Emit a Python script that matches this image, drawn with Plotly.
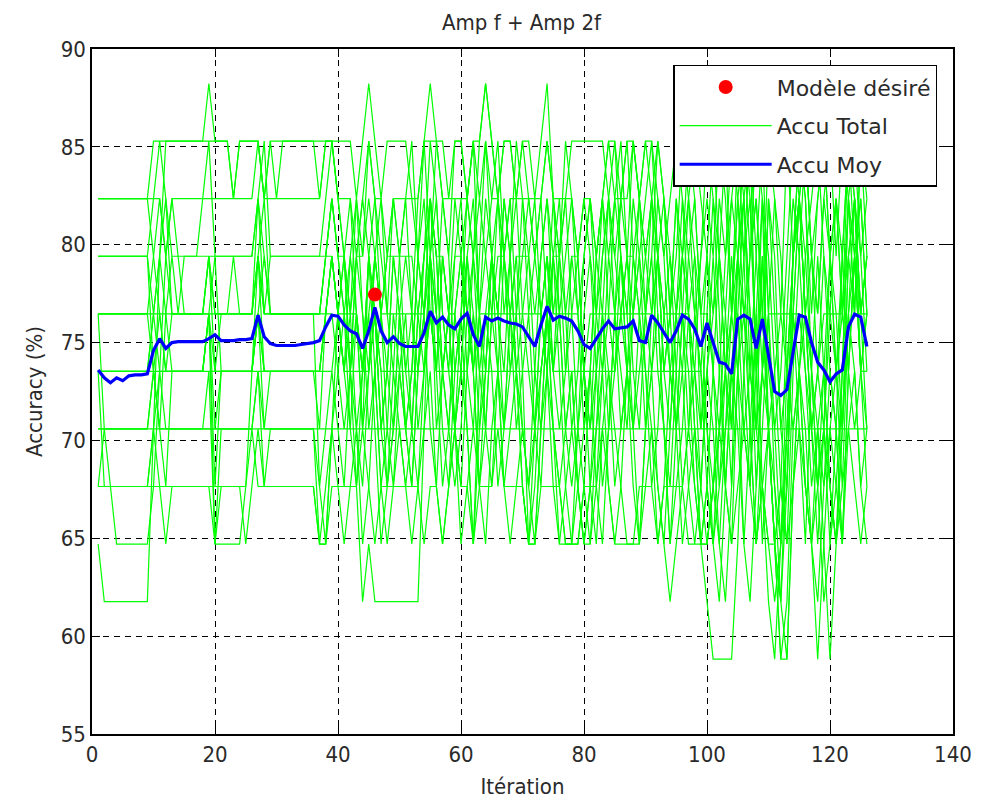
import plotly.graph_objects as go

# Test-set size: every accuracy is a count of correct predictions out of 34
N_TEST = 34

iterations = list(range(1, 127))

# Correct predictions per iteration for each run ("Accu Total")
run_01 = [28,28,28,28,28,28,28,28,28,29, 29,29,29,29,29,29,29,29,30,29,
          29,29,28,29,29,29,29,28,29,28, 29,29,29,29,29,29,28,29,29,29,
          29,29,28,29,30,29,28,29,29,29, 29,28,27,29,29,29,28,27,29,29,
          28,29,29,30,29,28,29,29,28,29, 29,28,29,30,28,27,28,29,29,29,
          29,29,29,28,27,28,29,29,28,29, 29,28,27,28,29,28,27,26,27,29,
          28,27,29,26,28,29,27,28,26,29, 28,26,29,27,28,29,27,26,28,29,
          27,29,28,26,29,28]
run_02 = [28,28,28,28,28,28,28,28,28,28, 28,27,28,28,28,28,28,28,28,28,
          28,28,28,28,28,28,29,28,28,28, 28,28,28,28,28,28,28,29,29,28,
          28,28,27,28,29,28,28,27,28,28, 28,28,28,29,30,29,28,28,28,28,
          28,29,28,29,28,28,27,28,28,28, 28,28,28,29,28,28,28,28,27,28,
          28,27,28,29,28,28,28,29,28,27, 28,29,28,27,26,27,28,29,28,27,
          26,28,27,29,28,26,27,29,28,26, 28,27,25,27,29,28,26,28,29,27,
          28,26,28,29,27,28]
run_03 = [27,27,27,27,27,27,27,27,27,25, 24,26,27,26,27,27,27,27,27,27,
          27,27,27,27,27,27,28,26,27,27, 27,27,27,27,27,27,27,27,28,27,
          27,26,27,27,28,27,26,27,27,27, 27,27,26,27,28,27,27,26,27,27,
          26,27,28,27,26,27,27,26,27,27, 27,26,27,28,27,27,26,27,27,28,
          27,26,27,28,27,26,27,27,28,27, 26,27,26,25,26,27,26,25,24,25,
          26,27,25,23,27,28,26,24,27,25, 24,22,23,27,28,26,24,25,27,26,
          25,24,27,28,26,27]
run_04 = [26,26,26,26,26,26,26,26,26,26, 26,25,26,26,26,26,26,26,26,26,
          26,26,26,26,26,26,27,26,26,26, 26,26,26,26,26,26,26,26,27,26,
          26,26,26,25,26,27,26,26,26,26, 26,26,26,26,27,26,25,26,26,27,
          26,25,26,26,26,26,26,26,26,26, 26,26,26,27,26,26,26,26,26,25,
          26,26,26,26,26,26,26,26,26,26, 26,27,26,26,26,26,26,27,26,26,
          25,24,25,26,27,26,25,24,25,26, 26,26,26,26,26,25,24,25,26,26,
          26,26,27,26,26,26]
run_05 = [24,24,24,24,24,24,24,24,24,25, 25,25,25,25,25,25,25,25,25,25,
          25,25,25,25,25,25,25,25,25,25, 25,25,25,25,25,25,25,25,25,26,
          25,25,25,25,25,26,25,25,25,25, 25,25,25,25,26,25,25,25,25,25,
          25,26,25,25,25,25,25,25,25,25, 25,25,25,26,25,25,25,25,25,25,
          25,25,25,25,25,26,25,25,25,25, 25,25,25,25,25,25,25,25,25,24,
          23,24,25,26,25,24,23,22,23,24, 25,26,25,24,25,26,25,24,23,24,
          25,26,25,24,25,25]
run_06 = [23,24,24,24,24,24,24,24,24,24, 24,24,24,24,24,24,24,24,24,24,
          24,24,24,24,24,24,24,24,24,24, 24,24,24,24,24,24,24,24,24,24,
          24,24,24,24,24,24,24,24,24,24, 24,24,24,24,24,24,24,24,24,24,
          24,24,24,24,24,24,24,24,24,24, 24,24,24,24,24,24,24,24,24,24,
          24,24,24,24,24,24,24,24,24,24, 24,24,24,24,24,24,24,24,24,24,
          24,24,24,24,24,24,24,24,24,24, 24,24,24,24,24,24,24,24,24,24,
          24,24,24,24,24,24]
run_07 = [25,23,23,23,23,23,23,23,23,24, 23,22,23,23,23,23,23,23,23,22,
          23,23,23,23,23,24,23,23,23,23, 23,23,23,23,23,23,22,22,23,23,
          23,23,23,24,23,22,23,23,23,23, 23,23,23,22,23,23,22,23,24,23,
          23,22,23,23,23,24,23,23,23,23, 22,22,23,23,23,23,22,22,22,23,
          23,23,24,23,22,22,22,22,23,23, 23,22,23,23,23,23,22,22,22,22,
          23,24,23,22,23,24,25,24,23,22, 22,23,22,23,24,23,22,23,24,23,
          22,23,24,23,22,23]
run_08 = [22,21,21,21,21,21,21,21,21,24, 27,29,29,29,29,29,29,29,29,29,
          29,29,28,29,29,29,29,28,29,29, 29,29,29,29,29,29,29,29,29,28,
          27,25,23,21,22,21,21,21,21,21, 21,21,21,24,27,29,29,28,29,29,
          28,27,29,30,29,28,29,29,28,29, 28,27,26,25,24,22,22,22,23,24,
          25,27,28,29,29,28,29,27,26,25, 24,23,22,21,22,23,24,23,22,21,
          20,20,20,20,22,25,27,28,26,24, 22,20,20,23,25,27,28,29,27,25,
          24,22,25,27,28,26]
run_09 = [26,24,23,22,22,22,22,22,22,23, 25,27,28,27,26,26,26,26,26,22,
          22,22,22,22,23,25,26,27,26,26, 26,26,26,26,26,26,23,22,24,26,
          27,25,26,24,27,26,25,23,24,26, 25,24,26,27,28,26,24,23,25,26,
          24,22,25,26,27,25,24,26,27,25, 22,22,24,26,27,25,23,22,22,23,
          25,23,22,24,26,27,25,24,26,27, 28,26,24,22,24,26,25,23,22,22,
          23,25,27,28,29,27,24,22,23,21, 20,22,25,27,29,28,25,23,21,22,
          24,27,29,27,25,26]
run_10 = [25,25,25,25,25,25,25,25,25,26, 27,28,26,26,26,26,26,26,27,25,
          26,26,26,26,26,26,27,28,26,26, 26,26,26,26,26,26,26,27,28,27,
          26,25,27,28,27,26,24,25,27,26, 24,23,25,26,28,27,25,26,28,27,
          25,24,26,28,27,26,28,27,25,24, 23,25,27,28,26,27,28,26,24,23,
          22,23,25,26,28,27,25,26,27,28, 29,27,25,26,28,27,29,28,26,27,
          25,23,24,26,28,27,29,25,28,24, 22,23,26,28,27,25,23,24,22,20,
          22,25,28,26,29,27]
run_11 = [27,27,27,27,27,27,27,27,27,28, 29,28,27,27,27,27,27,28,29,27,
          27,27,27,27,27,27,28,29,27,27, 27,27,27,27,27,27,27,28,29,28,
          27,26,28,27,29,28,26,27,28,27, 28,29,27,26,28,27,25,24,26,27,
          28,29,26,27,28,29,27,28,26,27, 28,27,28,29,28,26,27,28,27,25,
          24,26,28,27,28,29,27,26,28,29, 28,27,25,26,28,26,24,25,27,28,
          27,29,28,26,29,28,25,27,29,26, 24,25,27,29,28,26,27,28,29,27,
          28,26,29,28,26,27]
run_12 = [26,26,26,26,26,26,26,26,26,25, 24,23,25,25,25,25,25,25,26,23,
          25,25,25,25,25,25,26,24,25,25, 25,25,25,25,25,25,24,26,27,26,
          25,24,26,25,27,25,23,24,26,25, 24,25,27,26,27,24,25,26,24,25,
          27,25,23,25,27,26,24,25,26,24, 23,24,26,27,25,26,24,25,23,22,
          23,25,26,24,25,27,26,24,25,26, 27,25,24,23,25,27,26,24,22,23,
          25,27,26,24,27,29,28,25,27,24, 22,21,23,26,28,27,25,23,24,22,
          23,25,28,27,26,24]
run_13 = [23,23,23,23,23,23,23,23,23,24, 25,24,24,24,24,24,24,24,25,22,
          24,24,24,24,24,24,25,23,24,24, 24,24,24,24,24,24,22,22,24,25,
          26,24,23,25,26,24,22,23,25,24, 23,24,26,25,27,25,23,24,26,25,
          24,22,24,26,25,23,24,26,25,23, 22,23,25,26,24,23,22,22,24,25,
          23,22,24,25,24,23,22,22,22,24, 25,26,24,22,23,24,26,25,23,22,
          23,22,24,25,26,24,23,25,26,24, 22,21,24,26,25,23,22,24,25,23,
          22,24,26,25,23,24]
run_14 = [28,28,28,28,28,28,28,28,28,27, 26,26,26,26,26,26,26,26,27,26,
          26,26,27,26,26,26,28,27,26,26, 26,26,26,26,26,26,26,27,28,27,
          26,27,28,26,25,27,28,26,25,27, 28,26,25,27,29,28,26,25,27,28,
          26,25,27,29,27,26,28,27,25,26, 27,28,26,25,27,28,26,24,25,27,
          28,26,25,27,26,28,27,29,28,26, 25,27,28,26,24,25,27,28,26,24,
          22,24,26,28,27,25,23,26,28,27, 25,23,22,25,27,29,27,25,24,26,
          28,27,25,27,28,26]
run_15 = [24,24,24,24,24,24,24,24,24,25, 26,25,25,25,25,25,25,25,26,24,
          25,25,25,25,25,25,26,25,25,25, 25,25,25,25,25,25,25,26,26,25,
          24,25,27,26,24,25,26,24,23,25, 26,24,23,25,26,25,27,26,24,23,
          25,27,26,24,23,25,27,26,24,25, 26,24,23,25,27,26,24,23,24,26,
          27,25,23,24,26,25,24,26,27,25, 23,24,26,27,25,23,24,26,25,23,
          22,23,25,27,25,22,24,26,23,22, 21,22,24,26,24,22,25,27,25,23,
          22,24,26,27,25,23]
run_16 = [25,25,25,25,25,25,25,25,25,26, 27,26,25,25,25,25,25,25,26,27,
          25,25,25,25,25,25,27,25,25,25, 25,25,25,25,25,25,25,26,27,26,
          25,27,26,24,25,27,26,25,24,26, 27,26,24,25,27,28,26,25,24,26,
          28,27,25,24,26,28,27,25,26,28, 27,25,24,26,28,27,25,26,27,25,
          24,25,27,28,26,24,25,27,26,24, 26,28,27,25,24,26,28,27,24,26,
          28,26,23,25,27,28,26,23,25,28, 26,24,25,27,28,26,24,22,24,27,
          25,23,26,28,27,25]
run_17 = [26,26,26,26,26,26,26,26,26,27, 28,27,26,26,26,26,26,26,27,26,
          26,26,26,26,26,26,27,26,26,26, 26,26,26,26,26,26,26,27,27,26,
          27,28,26,25,27,28,27,26,28,27, 25,26,28,29,27,26,28,27,25,26,
          27,28,26,25,27,28,26,27,29,28, 26,27,28,26,25,27,29,28,26,27,
          28,27,26,28,29,27,26,28,27,26, 27,29,28,26,27,29,28,26,25,27,
          29,27,25,24,26,28,29,27,25,28, 27,24,23,26,28,29,27,26,28,27,
          25,27,29,28,26,27]
run_18 = [23,23,23,23,23,23,23,23,23,23, 23,23,23,23,23,23,23,23,23,23,
          23,23,23,23,22,23,24,23,23,23, 23,23,23,23,23,23,22,23,24,23,
          22,23,24,22,23,25,23,22,23,24, 23,22,23,24,25,23,22,23,24,22,
          23,24,23,22,24,25,23,22,23,24, 23,22,24,25,23,22,23,24,23,22,
          22,24,25,23,22,23,25,24,22,23, 24,22,23,25,24,22,23,24,22,23,
          22,21,23,25,24,22,21,23,25,24, 22,20,21,24,25,23,22,20,22,24,
          23,22,24,25,23,22]
run_19 = [27,27,27,27,27,27,27,27,27,26, 25,25,25,25,25,25,25,25,26,25,
          25,25,25,25,25,25,26,25,25,25, 25,25,25,25,25,25,25,26,27,26,
          25,26,24,25,27,26,24,25,27,26, 24,25,27,28,26,25,27,26,24,25,
          27,26,24,25,27,26,25,27,28,26, 25,24,26,27,25,24,25,27,26,24,
          25,27,28,26,25,26,27,25,24,26, 28,27,25,24,26,28,26,24,23,25,
          27,25,23,22,25,27,28,25,22,24, 23,22,24,27,28,26,24,23,25,27,
          26,24,27,28,25,26]
run_20 = [25,25,25,25,25,25,25,25,25,25, 24,24,24,24,24,24,24,24,24,24,
          24,24,24,24,24,24,25,24,24,24, 24,24,24,24,24,24,23,24,25,24,
          23,25,24,23,25,26,24,23,24,25, 24,23,25,26,24,23,25,24,23,24,
          26,25,23,24,26,25,23,24,25,23, 22,24,25,26,24,23,24,25,23,22,
          23,24,26,25,23,24,25,23,22,24, 25,23,22,24,26,25,23,22,23,25,
          24,22,21,23,25,26,24,22,24,26, 23,21,20,23,25,24,22,21,23,25,
          24,22,25,27,25,24]

runs = [run_01, run_02, run_03, run_04, run_05, run_06, run_07,
        run_08, run_09, run_10, run_11, run_12, run_13, run_14,
        run_15, run_16, run_17, run_18, run_19, run_20]

# Mean accuracy per iteration ("Accu Moy"), in percent
accu_moy = [73.60, 73.20, 72.95, 73.20, 73.05, 73.30, 73.35, 73.35, 73.40, 74.60,
            75.20, 74.70, 75.00, 75.05, 75.05, 75.05, 75.05, 75.05, 75.20, 75.40,
            75.10, 75.10, 75.10, 75.15, 75.15, 75.20, 76.40, 75.30, 74.95, 74.85,
            74.85, 74.85, 74.85, 74.90, 74.95, 75.00, 75.10, 75.80, 76.40, 76.35,
            75.90, 75.60, 75.45, 74.70, 75.60, 76.80, 75.60, 75.00, 75.30, 74.95,
            74.80, 74.80, 74.80, 75.50, 76.60, 76.00, 76.30, 75.90, 75.70, 76.20,
            76.50, 75.40, 74.80, 76.30, 76.10, 76.25, 76.10, 76.00, 75.95, 75.80,
            75.30, 74.80, 75.90, 76.85, 76.15, 76.35, 76.25, 76.10, 75.60, 74.90,
            74.70, 75.20, 75.70, 76.10, 75.70, 75.75, 75.80, 76.10, 75.10, 75.00,
            76.40, 76.00, 75.50, 75.00, 75.60, 76.40, 76.20, 75.70, 74.80, 76.00,
            75.00, 74.00, 73.90, 73.40, 76.20, 76.40, 76.20, 74.70, 76.20, 74.30,
            72.50, 72.30, 72.60, 74.50, 76.40, 76.30, 75.00, 74.00, 73.60, 73.00,
            73.40, 73.60, 75.80, 76.45, 76.30, 74.80]

# Selected model
best_iteration = [46]
best_accuracy = [77.45]

GREEN = "#00FF00"
BLUE = "#0000FF"
RED = "#FF0000"
NARROW_FONT = "DejaVu Sans Condensed, Liberation Sans, sans-serif"
LEGEND_FONT = "DejaVu Sans, Liberation Sans, sans-serif"
TEXT_COLOR = "#2a2a2a"

fig = go.Figure()

for i, run in enumerate(runs):
    fig.add_trace(go.Scatter(
        x=iterations,
        y=[100.0 * c / N_TEST for c in run],
        mode="lines",
        line=dict(color=GREEN, width=1.2),
        name="Accu Total",
        legendgroup="total",
        showlegend=(i == 0),
        legendrank=2,
        hoverinfo="skip",
    ))

fig.add_trace(go.Scatter(
    x=iterations, y=accu_moy, mode="lines",
    line=dict(color=BLUE, width=3.2),
    name="Accu Moy", legendgroup="moy", legendrank=3,
))

fig.add_trace(go.Scatter(
    x=best_iteration, y=best_accuracy, mode="markers",
    marker=dict(color=RED, size=14, line=dict(width=0)),
    name="Modèle désiré", legendgroup="best", legendrank=1,
))

axis_common = dict(
    showline=True, linecolor="black", linewidth=1.5, mirror="ticks",
    ticks="inside", ticklen=8, tickcolor="black", tickwidth=1,
    showgrid=True, gridcolor="black", gridwidth=1, griddash="6px,5px",
    zeroline=False,
    tickfont=dict(family=NARROW_FONT, size=22, color=TEXT_COLOR),
    title_font=dict(family=NARROW_FONT, size=22, color=TEXT_COLOR),
)

fig.update_xaxes(range=[0, 140], tick0=0, dtick=20,
                 title_text="Itération", title_standoff=12, **axis_common)
fig.update_yaxes(range=[55, 90], tick0=55, dtick=5,
                 title_text="Accuracy (%)", title_standoff=12, **axis_common)

fig.update_layout(
    width=984, height=807,
    margin=dict(l=92, r=26, t=49, b=70),
    paper_bgcolor="white", plot_bgcolor="white",
    title=dict(text="Amp f + Amp 2f", x=0.53, xanchor="center",
               y=1 - 22 / 807, yanchor="middle",
               font=dict(family=NARROW_FONT, size=22, color=TEXT_COLOR)),
    legend=dict(
        x=0.675, y=0.977, xanchor="left", yanchor="top",
        bgcolor="white", bordercolor="black", borderwidth=1.5,
        font=dict(family=LEGEND_FONT, size=22, color=TEXT_COLOR),
        traceorder="grouped", tracegroupgap=7, itemwidth=92,
    ),
    showlegend=True,
)

fig.write_html("out.html")
